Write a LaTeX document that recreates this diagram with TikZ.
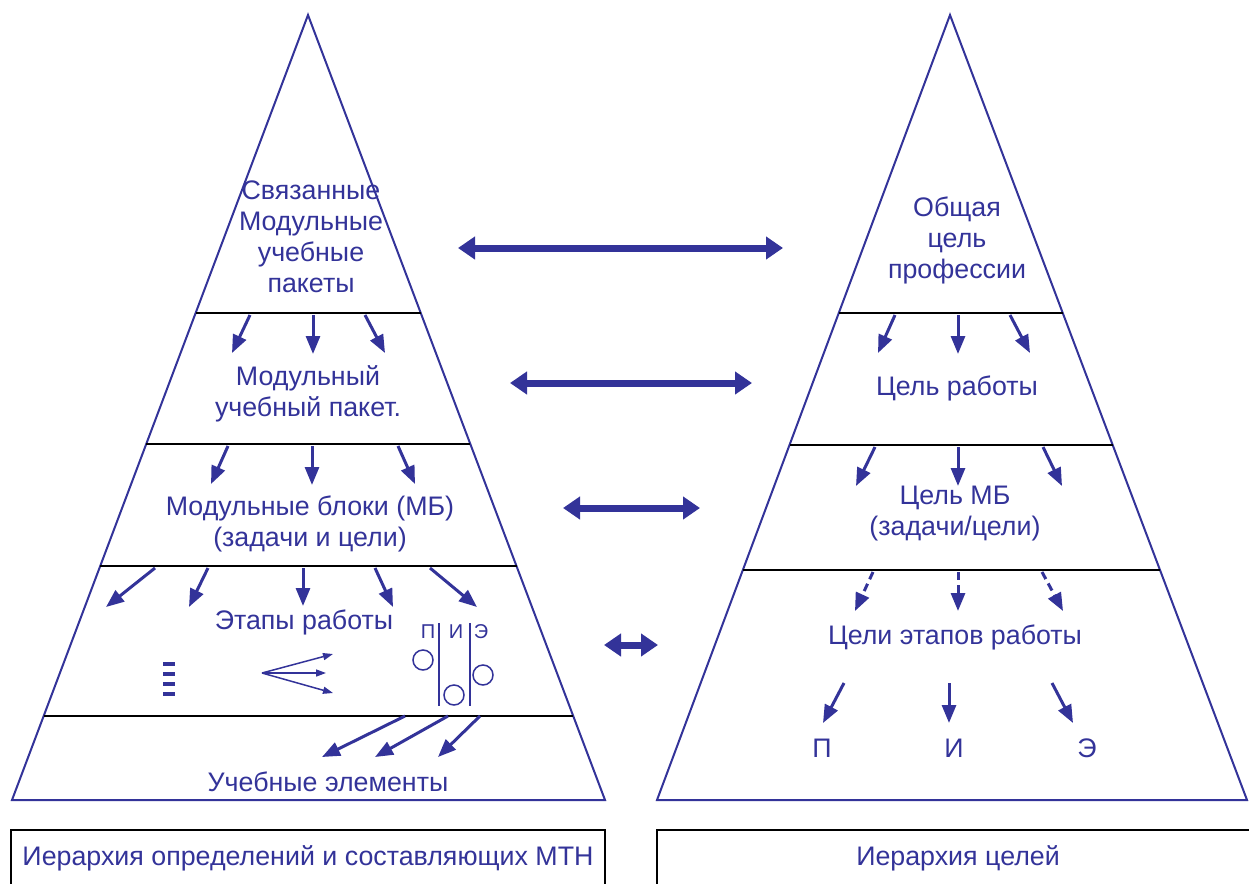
\documentclass[tikz,border=0pt]{standalone}
\usepackage{fontspec}
\setmainfont{Liberation Sans}
\usepackage{xcolor}
\usepackage{tikz}
\usetikzlibrary{arrows.meta,positioning}
\definecolor{mtnblue}{RGB}{51,51,153}

\begin{document}
\begin{tikzpicture}[x=1pt,y=-1pt,
txt/.style={text=mtnblue,font=\fontsize{26.8}{31}\selectfont,align=center,inner sep=0pt},
small/.style={text=mtnblue,font=\fontsize{20}{22}\selectfont,inner sep=0pt},
pyr/.style={draw=mtnblue,line width=2pt,line join=miter},
level/.style={draw=black,line width=2.5pt},
down/.style={draw=mtnblue,line width=3pt,-{Triangle[length=18pt,width=14pt]}},
dashdown/.style={down,dash pattern=on 8pt off 5pt},
link/.style={draw=mtnblue,line width=7pt,{Triangle[length=17pt,width=22pt]}-{Triangle[length=17pt,width=22pt]}},
fan/.style={draw=mtnblue,line width=1.5pt,-{Triangle[length=10pt,width=7pt]}},
tick/.style={draw=mtnblue,line width=4pt},
legend/.style={draw=black,line width=1.5pt}
]
\useasboundingbox (0,0) rectangle (1249,883);

%draw pyramids
\draw[pyr] (308,15) -- (605,800) -- (12,800) -- cycle;
\draw[pyr] (950,15) -- (1247,800) -- (657,800) -- cycle;

%draw levels
\draw[level] (195.6,313) -- (420.7,313);
\draw[level] (146.2,444) -- (470.3,444);
\draw[level] (100.2,566) -- (516.5,566);
\draw[level] (43.7,716) -- (573.2,716);

\draw[level] (838.8,313) -- (1062.7,313);
\draw[level] (789.5,445) -- (1112.7,445);
\draw[level] (742.8,570) -- (1160,570);

%create nodes
\node[txt] (pkgs) at (311,237) {Связанные\\Модульные\\учебные\\пакеты};
\node[txt] (pkg) at (308,394) {Модульный\\учебный пакет.};
\node[txt] (blocks) at (310,524) {Модульные блоки (МБ)\\(задачи и цели)};
\node[txt] (stages) at (304,622) {Этапы работы};
\node[txt] (elems) at (328,782) {Учебные элементы};

\node[txt] (goal) at (957,240) {Общая\\цель\\профессии};
\node[txt] (work) at (957,388) {Цель работы};
\node[txt] (mbgoal) at (955,514) {Цель МБ\\(задачи/цели)};
\node[txt] (stgoal) at (955,637) {Цели этапов работы};

\node[txt] (gp) at (822,748) {П};
\node[txt] (gi) at (954,748) {И};
\node[txt] (ge) at (1087,748) {Э};

\node[small] (sp) at (428,632) {П};
\node[small] (si) at (456,632) {И};
\node[small] (se) at (481,632) {Э};

%create coordinates
\coordinate (l1a) at (458,248); \coordinate (r1a) at (783,248);
\coordinate (l2a) at (510,383); \coordinate (r2a) at (752,383);
\coordinate (l3a) at (563,508); \coordinate (r3a) at (700,508);
\coordinate (l4a) at (604,645); \coordinate (r4a) at (658,645);

\coordinate (fan) at (262,673);
\coordinate (fan1) at (333,654);
\coordinate (fan2) at (326,673);
\coordinate (fan3) at (333,693);

%draw links between hierarchies
\draw[link] (l1a) -- (r1a);
\draw[link] (l2a) -- (r2a);
\draw[link] (l3a) -- (r3a);
\draw[link] (l4a) -- (r4a);

%draw paths left
\draw[down] (250,315) -- (232,353);
\draw[down] (313,315) -- (313,354);
\draw[down] (365,315) -- (385,353);

\draw[down] (228,446) -- (211,484);
\draw[down] (312,446) -- (312,485);
\draw[down] (398,446) -- (415,484);

\draw[down] (155,568) -- (106,607);
\draw[down] (208,568) -- (189,607);
\draw[down] (303,568) -- (303,606);
\draw[down] (375,568) -- (393,607);
\draw[down] (430,568) -- (477,607);

\draw[down] (405,716) -- (322,757);
\draw[down] (448,716) -- (375,757);
\draw[down] (480,716) -- (438,757);

%draw paths right
\draw[down] (895,315) -- (878,353);
\draw[down] (958,315) -- (958,354);
\draw[down] (1010,315) -- (1030,353);

\draw[down] (875,447) -- (856,486);
\draw[down] (958,447) -- (958,486);
\draw[down] (1043,447) -- (1062,486);

\draw[dashdown] (873,572) -- (855,611);
\draw[dashdown] (958,572) -- (958,611);
\draw[dashdown] (1042,572) -- (1063,611);

\draw[down] (844,683) -- (823,723);
\draw[down] (949,683) -- (949,723);
\draw[down] (1052,683) -- (1073,723);

%draw stage sketch
\draw[tick] (163,664) -- (175,664);
\draw[tick] (163,674) -- (175,674);
\draw[tick] (163,684) -- (175,684);
\draw[tick] (163,694) -- (175,694);

\draw[fan] (fan) -- (fan1);
\draw[fan] (fan) -- (fan2);
\draw[fan] (fan) -- (fan3);

\draw[mtnblue,line width=1.5pt] (439,623) -- (439,706);
\draw[mtnblue,line width=1.5pt] (470,623) -- (470,706);
\draw[mtnblue,line width=1.5pt] (423,660) circle (10);
\draw[mtnblue,line width=1.5pt] (454,695) circle (10);
\draw[mtnblue,line width=1.5pt] (483,675) circle (10);

%draw legend boxes
\draw[legend] (11,830) rectangle (605,895);
\draw[legend] (657,830) rectangle (1260,895);
\node[txt] (lleg) at (308,858) {Иерархия определений и составляющих МТН};
\node[txt] (rleg) at (958,858) {Иерархия целей};

\end{tikzpicture}
\end{document}
